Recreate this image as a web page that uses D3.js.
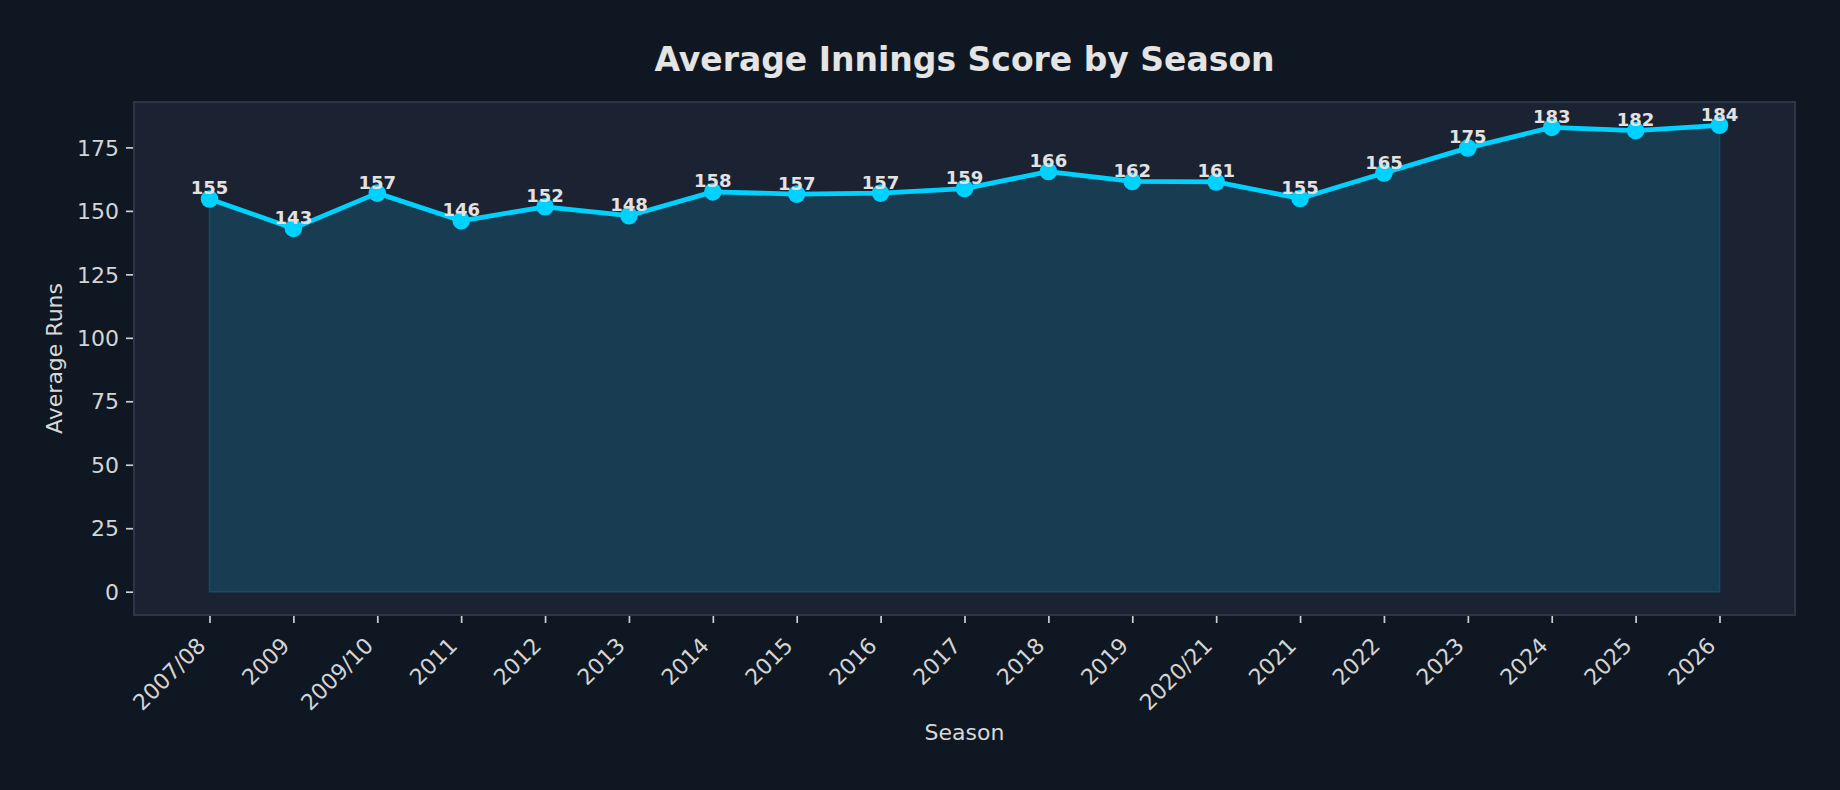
<!DOCTYPE html>
<html>
<head>
<meta charset="utf-8">
<script src="https://cdn.jsdelivr.net/npm/d3@7/dist/d3.min.js"></script>
<style>
  html, body { margin: 0; padding: 0; background: #0f1822; }
  svg { display: block; }
  text { font-family: "DejaVu Sans", sans-serif; }
</style>
</head>
<body>
<svg id="chart" width="1840" height="790"></svg>
<script>
const seasons = ["2007/08","2009","2009/10","2011","2012","2013","2014","2015","2016","2017","2018","2019","2020/21","2021","2022","2023","2024","2025","2026"];
const avgRuns = [154.7,143.1,157.0,146.1,151.6,148.1,157.5,156.6,157.0,158.8,165.5,161.6,161.4,154.9,164.9,174.8,182.9,181.6,183.7];
const yTicks = [0,25,50,75,100,125,150,175];

const W = 1840, H = 790;
const m = {left: 134, right: 1795, top: 102, bottom: 615};

const svg = d3.select("#chart");
svg.append("rect").attr("width", W).attr("height", H).attr("fill", "#0f1822");

const n = seasons.length;
const x = d3.scaleLinear().domain([-0.05*(n-1), (n-1)*1.05]).range([m.left, m.right]);
const ymax = d3.max(avgRuns);
const y = d3.scaleLinear().domain([-0.05*ymax, ymax*1.05]).range([m.bottom, m.top]);

// axes background
svg.append("rect")
  .attr("x", m.left).attr("y", m.top)
  .attr("width", m.right - m.left).attr("height", m.bottom - m.top)
  .attr("fill", "#1b2232");

// area fill
const area = d3.area().x((d,i) => x(i)).y0(y(0)).y1(d => y(d));
svg.append("path").datum(avgRuns)
  .attr("d", area)
  .attr("fill", "#183c51")
  .attr("stroke", "#1a4a62")
  .attr("stroke-width", 1.6);

// line
const line = d3.line().x((d,i) => x(i)).y(d => y(d));
svg.append("path").datum(avgRuns)
  .attr("d", line)
  .attr("fill", "none")
  .attr("stroke", "#00d2ff")
  .attr("stroke-width", 4.8)
  .attr("stroke-linejoin", "round");

// markers
svg.append("g").selectAll("circle").data(avgRuns).join("circle")
  .attr("cx", (d,i) => x(i)).attr("cy", d => y(d))
  .attr("r", 8.8).attr("fill", "#00d2ff");

// value labels
svg.append("g").selectAll("text").data(avgRuns).join("text")
  .attr("x", (d,i) => x(i)).attr("y", d => y(d) - 4.5)
  .attr("text-anchor", "middle")
  .attr("font-size", 18).attr("font-weight", "bold")
  .attr("fill", "#e2e2e2")
  .text(d => Math.round(d));

// spines
svg.append("rect")
  .attr("x", m.left).attr("y", m.top)
  .attr("width", m.right - m.left).attr("height", m.bottom - m.top)
  .attr("fill", "none").attr("stroke", "#2a3747").attr("stroke-width", 2);

// y axis
const yAxis = d3.axisLeft(y).tickValues(yTicks).tickSize(7).tickPadding(7);
const gy = svg.append("g").attr("transform", `translate(${m.left - 1},0)`).call(yAxis);
gy.select(".domain").remove();
gy.selectAll(".tick line").attr("stroke", "#cfcfcf").attr("stroke-width", 1.7);
gy.selectAll(".tick text").attr("fill", "#d4d4d4").attr("font-size", 22)
  .attr("font-family", "DejaVu Sans").attr("dy", "0.35em");

// x axis
const xAxis = d3.axisBottom(x).tickValues(d3.range(n)).tickFormat(i => seasons[i]).tickSize(7).tickPadding(7);
const gx = svg.append("g").attr("transform", `translate(0,${m.bottom + 1})`).call(xAxis);
gx.select(".domain").remove();
gx.selectAll(".tick line").attr("stroke", "#cfcfcf").attr("stroke-width", 1.7);
gx.selectAll(".tick text")
  .attr("fill", "#d4d4d4").attr("font-size", 22).attr("font-family", "DejaVu Sans")
  .attr("text-anchor", "end")
  .attr("dy", null).attr("y", null)
  .attr("transform", "translate(-3,31) rotate(-45)");

// axis titles
svg.append("text")
  .attr("x", (m.left + m.right)/2).attr("y", 740)
  .attr("text-anchor", "middle").attr("font-size", 22).attr("fill", "#d8d8d8")
  .text("Season");
svg.append("text")
  .attr("transform", `translate(62,${(m.top + m.bottom)/2}) rotate(-90)`)
  .attr("text-anchor", "middle").attr("font-size", 22).attr("fill", "#d8d8d8")
  .text("Average Runs");

// title
svg.append("text")
  .attr("x", (m.left + m.right)/2).attr("y", 71)
  .attr("text-anchor", "middle").attr("font-size", 33).attr("font-weight", "bold")
  .attr("fill", "#e4e4e4")
  .text("Average Innings Score by Season");
</script>
</body>
</html>
